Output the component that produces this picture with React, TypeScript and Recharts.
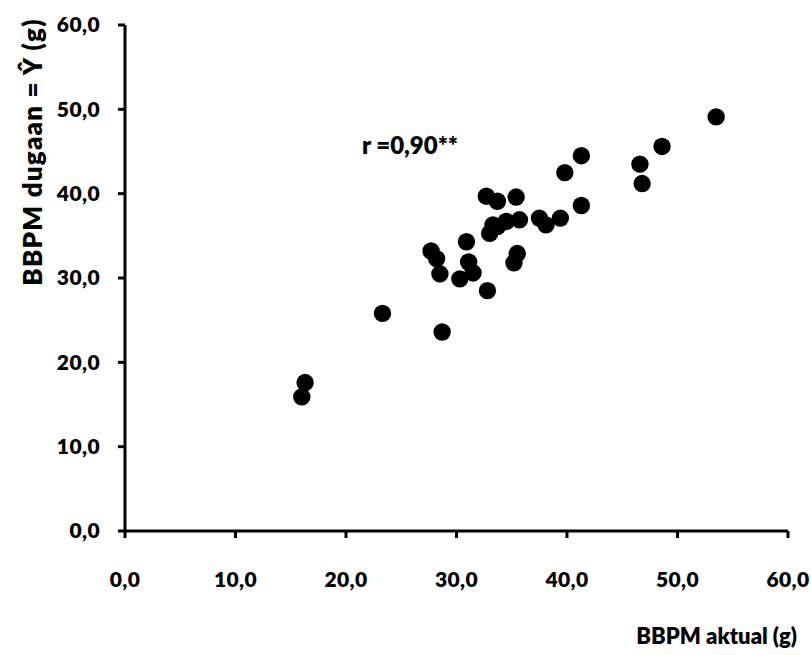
import { ScatterChart, Scatter, XAxis, YAxis, Label } from 'recharts';

// BBPM aktual (x) vs BBPM dugaan (y), grams
const aktual = [
  53.5, 48.6, 46.6, 46.8, 41.3, 39.8, 41.3, 23.3, 28.7, 16.3, 16.0, 32.7, 33.7, 35.4, 33.3, 33.0,
  34.5, 35.7, 37.5, 38.1, 39.4, 30.9, 27.7, 28.2, 28.5, 31.1, 31.5, 30.3, 32.8, 35.5, 35.2, 33.7,
];
const dugaan = [
  49.1, 45.6, 43.5, 41.2, 44.5, 42.5, 38.6, 25.8, 23.6, 17.6, 15.9, 39.7, 39.1, 39.6, 36.3, 35.3,
  36.7, 36.9, 37.1, 36.3, 37.1, 34.3, 33.2, 32.3, 30.5, 31.9, 30.6, 29.9, 28.5, 32.9, 31.8, 36.1,
];
const ticks = [0, 10, 20, 30, 40, 50, 60];

const FONT = 'Lato, "Open Sans", sans-serif';
const fmt = (v: number) => v.toFixed(1).replace('.', ',');

const points = aktual.map((x, i) => ({ x, y: dugaan[i] }));

const dot = (p: any) => <circle cx={p.cx} cy={p.cy} r={8.7} fill="#000" />;

export default function App() {
  const tickStyle = { fontSize: 21, fontWeight: 800, fill: '#000', fontFamily: FONT, letterSpacing: 0.4 };
  return (
    <div style={{ position: 'absolute', left: 0, top: 0, width: 811, height: 655, background: '#fff' }}>
      <ScatterChart width={811} height={655} margin={{ top: 25, right: 23, bottom: 0, left: 0 }}>
        <XAxis
          type="number"
          dataKey="x"
          domain={[0, 60]}
          ticks={ticks}
          tickFormatter={fmt}
          height={124}
          tick={tickStyle}
          tickSize={7}
          tickMargin={34}
          axisLine={{ stroke: '#000', strokeWidth: 3 }}
          tickLine={{ stroke: '#000', strokeWidth: 3 }}
        >
          <Label
            content={({ viewBox }: any) => (
              <text
                x={viewBox.x + viewBox.width + 9}
                y={viewBox.y + 113}
                textAnchor="end"
                style={{ fontSize: 22, fontWeight: 800, fontFamily: FONT, fill: '#000' }}
              >
                BBPM aktual (g)
              </text>
            )}
          />
        </XAxis>
        <YAxis
          type="number"
          dataKey="y"
          domain={[0, 60]}
          ticks={ticks}
          tickFormatter={fmt}
          width={125}
          tick={tickStyle}
          tickSize={7}
          tickMargin={18}
          axisLine={{ stroke: '#000', strokeWidth: 3 }}
          tickLine={{ stroke: '#000', strokeWidth: 3 }}
        >
          <Label
            content={() => (
              <text
                x={42}
                y={152}
                textAnchor="middle"
                transform="rotate(-90, 42, 152)"
                style={{ fontSize: 26, fontWeight: 800, fontFamily: FONT, fill: '#000', letterSpacing: 1.2 }}
              >
                BBPM dugaan = Ŷ (g)
              </text>
            )}
          />
        </YAxis>
        <Scatter data={points} shape={dot} isAnimationActive={false} />
        <text x={362} y={154} style={{ fontSize: 24, fontWeight: 800, fontFamily: FONT, fill: '#000' }}>
          r =0,90**
        </text>
      </ScatterChart>
    </div>
  );
}
